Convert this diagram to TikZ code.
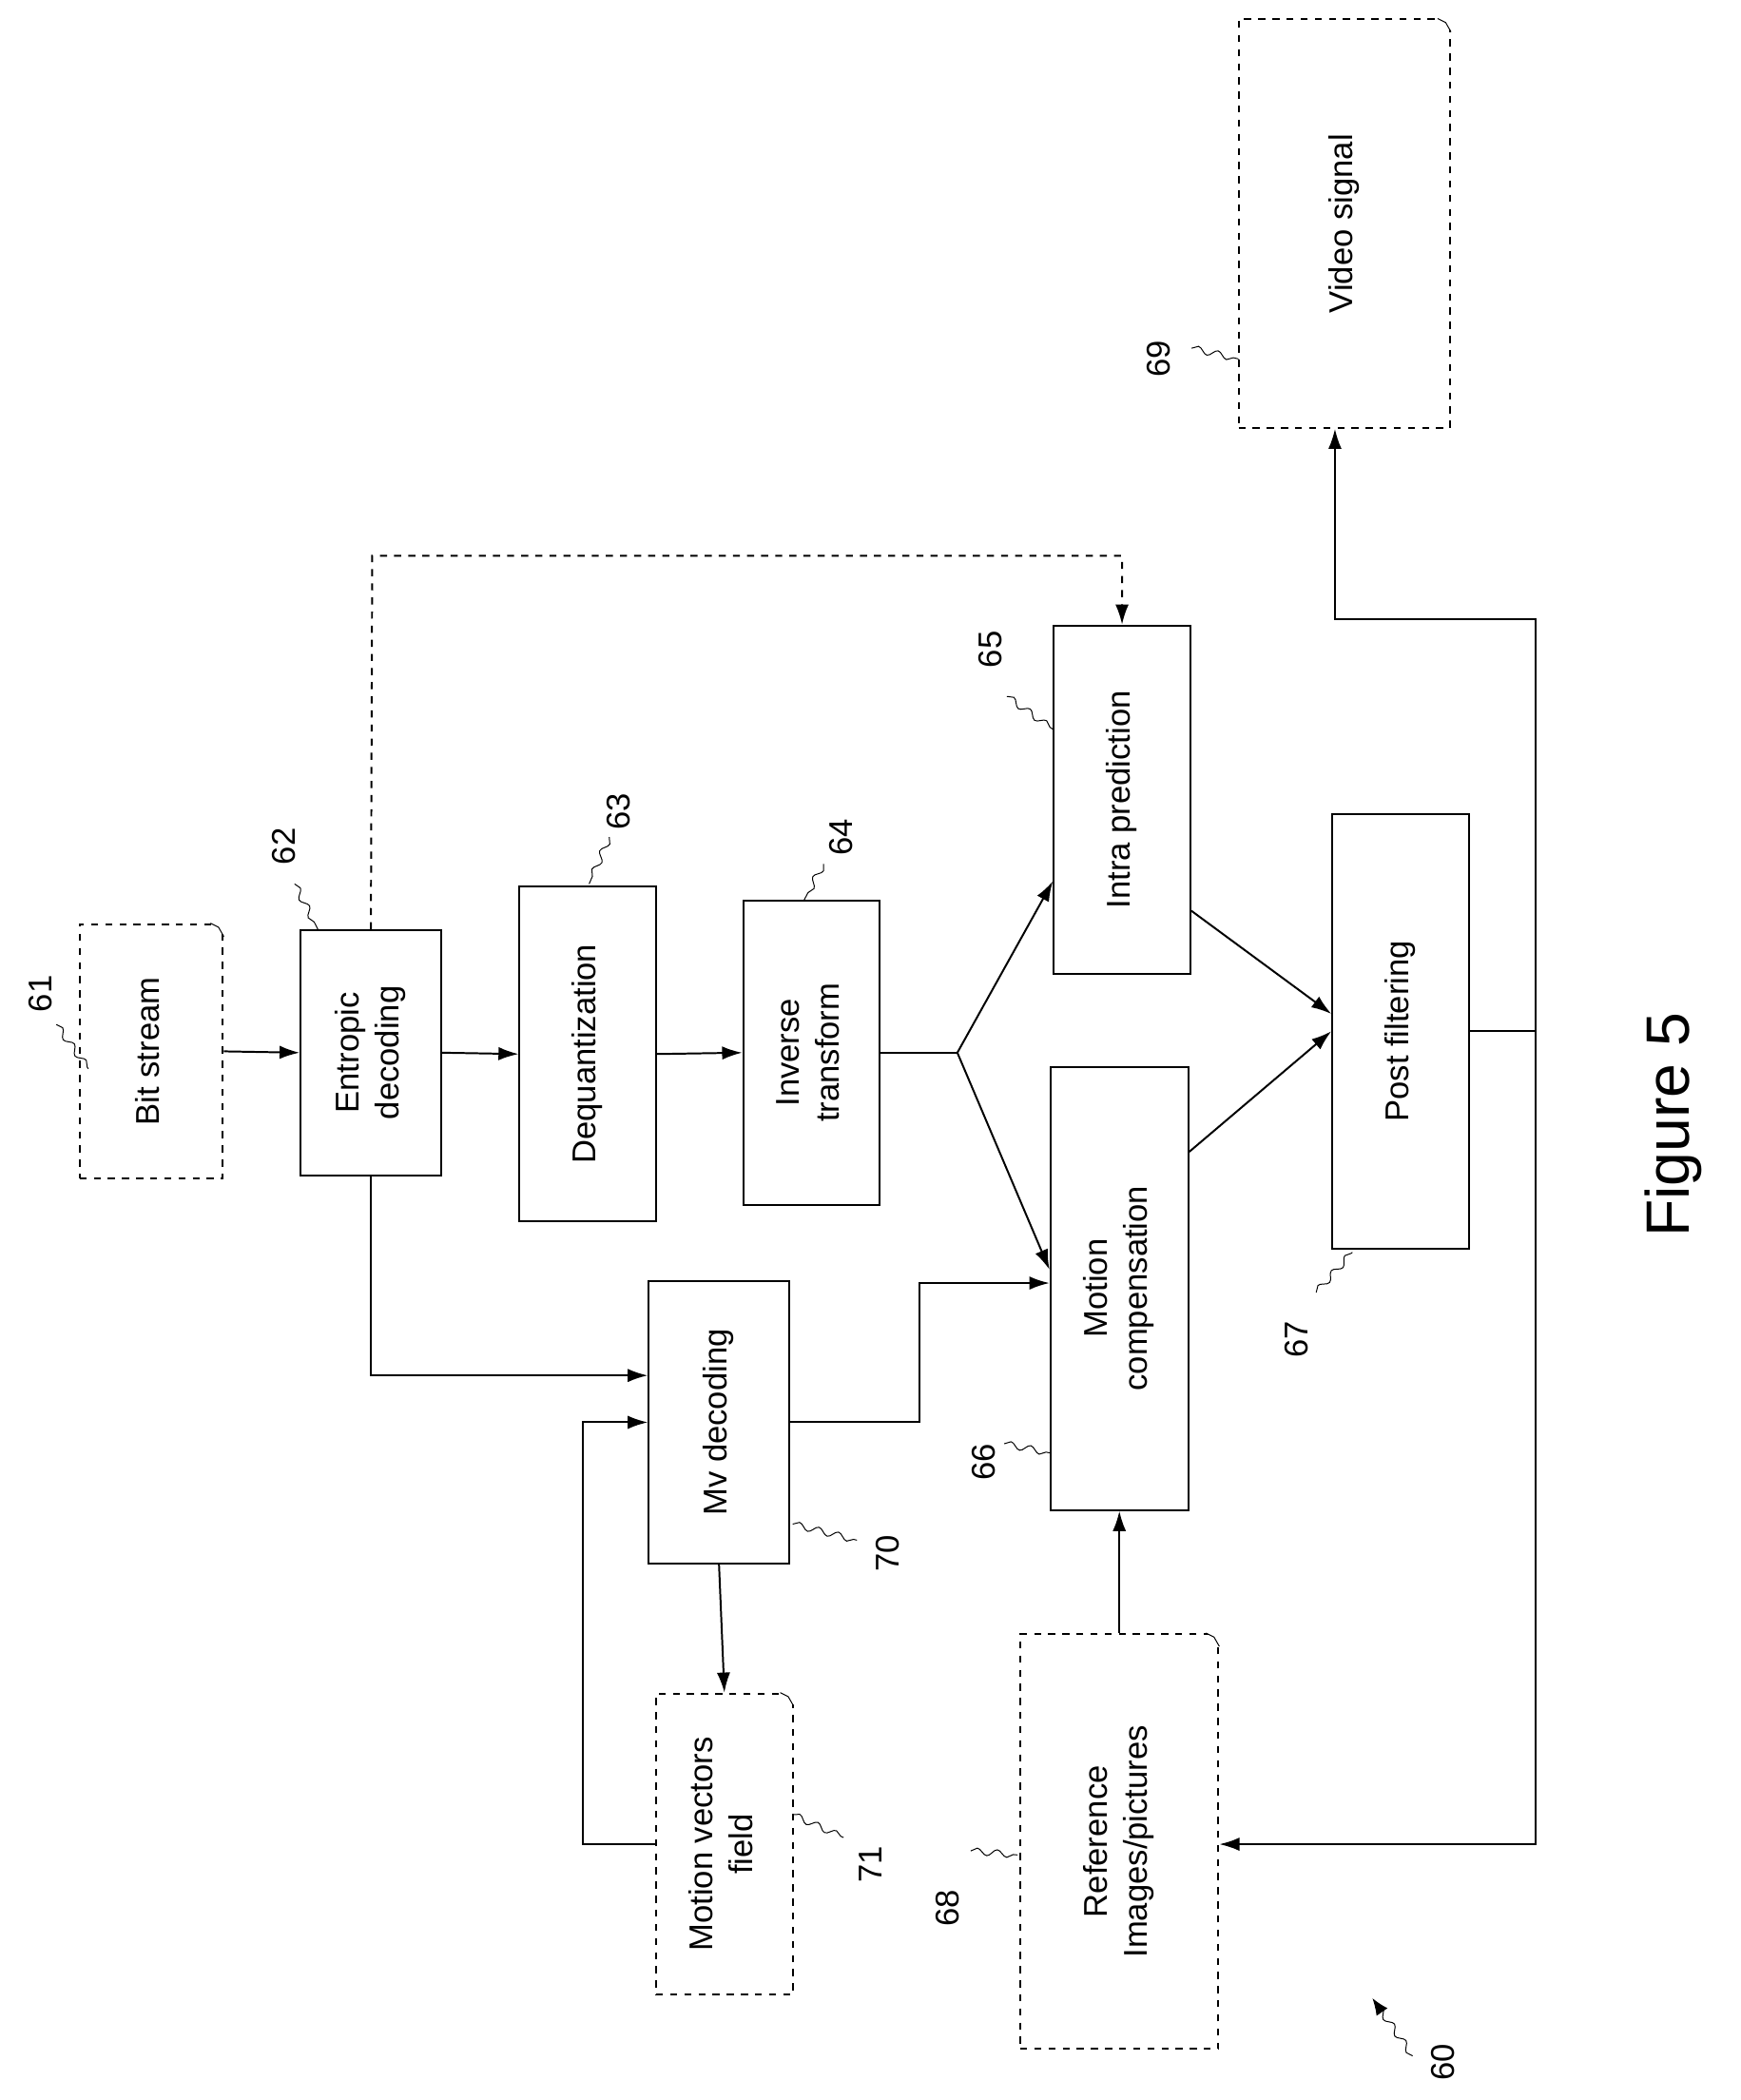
\documentclass[tikz,border=0pt]{standalone}
\usepackage{fontspec}
\setmainfont{Liberation Sans}
\usetikzlibrary{arrows.meta, positioning, calc, decorations.pathmorphing}

\newcommand{\vtext}[1]{\rotatebox{90}{\begin{tabular}{c}#1\end{tabular}}}

\begin{document}
\begin{tikzpicture}[x=0.02cm, y=-0.02cm,
    font=\fontsize{14}{17}\selectfont,
    block/.style={rectangle, draw, thick, inner sep=0pt},
    doc/.style={rectangle, draw, thick, dashed, inner sep=0pt},
    arrow/.style={-{Latex[length=3mm,width=2mm]}, thick},
    link/.style={thick},
    wavy/.style={thin, decorate, decoration={snake, segment length=3mm, amplitude=0.5mm}},
    num/.style={rotate=90}
]
    \useasboundingbox (0,0) rectangle (1300,1568);

    \node[doc, minimum width=2.14cm, minimum height=3.8cm] (bit) at (113,785) {\vtext{Bit stream}};
    \node[block, minimum width=2.1cm, minimum height=3.66cm] (ent) at (277,786) {\vtext{Entropic\\decoding}};
    \node[block, minimum width=2.04cm, minimum height=5cm] (deq) at (439,787) {\vtext{Dequantization}};
    \node[block, minimum width=2.04cm, minimum height=4.54cm] (inv) at (606,786) {\vtext{Inverse\\transform}};
    \node[block, minimum width=2.04cm, minimum height=5.2cm] (intra) at (838,597) {\vtext{Intra prediction}};
    \node[block, minimum width=2.06cm, minimum height=6.62cm] (mc) at (836,962) {\vtext{Motion\\compensation}};
    \node[block, minimum width=2.04cm, minimum height=6.5cm] (post) at (1046,770) {\vtext{Post filtering}};
    \node[doc, minimum width=3.16cm, minimum height=6.1cm] (video) at (1004,167) {\vtext{Video signal}};
    \node[block, minimum width=2.1cm, minimum height=4.22cm] (mv) at (537,1062) {\vtext{Mv decoding}};
    \node[doc, minimum width=2.04cm, minimum height=4.5cm] (mvf) at (541,1377) {\vtext{Motion vectors\\field}};
    \node[doc, minimum width=2.96cm, minimum height=6.2cm] (ref) at (836,1375) {\vtext{Reference\\Images/pictures}};

    % folded corners of the documents
    \foreach \d in {bit, video, mvf, ref} {
        \fill[white] ($(\d.north east)+(-10,-1)$) -- ($(\d.north east)+(1,-1)$) -- ($(\d.north east)+(1,10)$) -- cycle;
        \draw[thin] ($(\d.north east)+(-10,0)$) -- ($(\d.north east)+(-4,3)$) -- ($(\d.north east)+(0,10)$);
    }

    \node[font=\fontsize{26}{30}\selectfont, rotate=90] (fig) at (1250,840) {Figure 5};

    % main chain
    \draw[arrow] (bit.east) -- (ent.west);
    \draw[arrow] (ent.east) -- (deq.west);
    \draw[arrow] (deq.east) -- (inv.west);
    \coordinate (split) at (715,786);
    \draw[link] (inv.east) -- (split);
    \draw[arrow] (split) -- ($(intra.west)+(0,61)$);
    \draw[arrow] (split) -- ($(mc.west)+(0,-14)$);
    \draw[arrow] ($(intra.east)+(0,83)$) -- ($(post.west)+(0,-13)$);
    \draw[arrow] ($(mc.east)+(0,-102)$) -- (post.west);

    % output and feedback
    \coordinate (out) at (1147,770);
    \coordinate (up) at (1147,462);
    \coordinate (down) at (1147,1377);
    \draw[link] (post.east) -- (out);
    \draw[arrow] (out) -- (up) -| (video.south -| 997,0);
    \draw[arrow] (out) -- (down) -- (ref.east |- down);
    \draw[arrow] (ref.north) -- (mc.south);

    % entropic decoding side paths
    \draw[arrow, dashed] (ent.north) -- (278,415) -| (intra.north);
    \draw[arrow] (ent.south) |- ($(mv.west)+(0,-35)$);
    \coordinate (mvbend) at (687,958);
    \draw[arrow] (mv.east) -| (mvbend) -- (mvbend -| mc.west);
    \draw[arrow] (mv.south) -- (mvf.north);
    \draw[arrow] (mvf.west) -| (435,1062) -- (mv.west);

    % reference numerals
    \node[num] (n61) at (30,742) {61};
    \draw[wavy] (42,765) -- (66,798);
    \node[num] (n62) at (212,632) {62};
    \draw[wavy] (220,660) -- (238,695);
    \node[num] (n63) at (462,606) {63};
    \draw[wavy] (455,625) -- (440,660);
    \node[num] (n64) at (628,625) {64};
    \draw[wavy] (615,645) -- (600,673);
    \node[num] (n65) at (740,485) {65};
    \draw[wavy] (752,520) -- (787,545);
    \node[num] (n66) at (735,1092) {66};
    \draw[wavy] (750,1078) -- (785,1085);
    \node[num] (n67) at (968,1000) {67};
    \draw[wavy] (983,965) -- (1010,935);
    \node[num] (n68) at (708,1425) {68};
    \draw[wavy] (725,1382) -- (760,1385);
    \node[num] (n69) at (865,268) {69};
    \draw[wavy] (890,260) -- (925,268);
    \node[num] (n70) at (663,1160) {70};
    \draw[wavy] (592,1138) -- (640,1150);
    \node[num] (n71) at (650,1392) {71};
    \draw[wavy] (592,1355) -- (630,1372);
    \node[num] (n60) at (1078,1540) {60};
    \draw[wavy, -{Latex[length=2.5mm,width=2mm]}] (1055,1535) -- (1025,1492);
\end{tikzpicture}
\end{document}
